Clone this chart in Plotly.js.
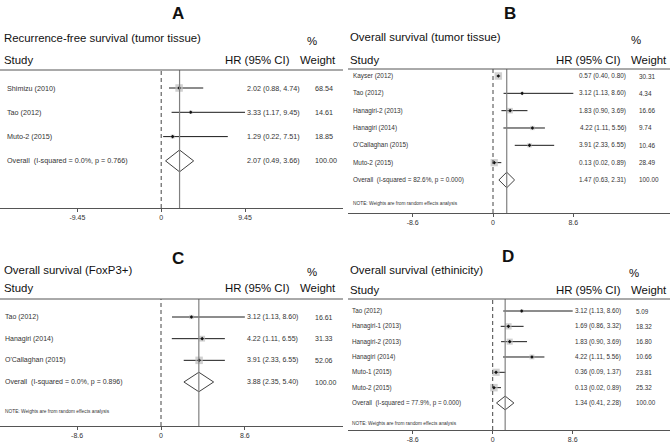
<!DOCTYPE html>
<html><head><meta charset="utf-8">
<script src="https://cdn.plot.ly/plotly-3.0.1.min.js"></script>
<style>html,body{margin:0;padding:0;background:#fff}</style>
</head><body><div id="chart" style="width:670px;height:442px"></div>
<script>
// ---------- Panel A : Recurrence-free survival (tumor tissue) ----------
const titleA = "Recurrence-free survival (tumor tissue)";
const studiesA = ["Shimizu (2010)", "Tao (2012)", "Muto-2 (2015)"];
const hrA = [2.02, 3.33, 1.29];
const loA = [0.88, 1.17, 0.22];
const hiA = [4.74, 9.45, 7.51];
const weightA = [68.54, 14.61, 18.85];
const overallA = [2.07, 0.49, 3.66];
const hetA = "I-squared = 0.0%, p = 0.766";
const tickValsA = [-9.45, 0, 9.45];
const tickTextA = ["-9.45", "0", "9.45"];

// ---------- Panel B : Overall survival (tumor tissue) ----------
const titleB = "Overall survival (tumor tissue)";
const studiesB = ["Kayser (2012)", "Tao (2012)", "Hanagiri-2 (2013)", "Hanagiri (2014)", "O'Callaghan (2015)", "Muto-2 (2015)"];
const hrB = [0.57, 3.12, 1.83, 4.22, 3.91, 0.13];
const loB = [0.40, 1.13, 0.90, 1.11, 2.33, 0.02];
const hiB = [0.80, 8.60, 3.69, 5.56, 6.55, 0.89];
const weightB = [30.31, 4.34, 16.66, 9.74, 10.46, 28.49];
const overallB = [1.47, 0.63, 2.31];
const hetB = "I-squared = 82.6%, p = 0.000";
const tickValsB = [-8.6, 0, 8.6];
const tickTextB = ["-8.6", "0", "8.6"];

// ---------- Panel C : Overall survival (FoxP3+) ----------
const titleC = "Overall survival (FoxP3+)";
const studiesC = ["Tao (2012)", "Hanagiri (2014)", "O'Callaghan (2015)"];
const hrC = [3.12, 4.22, 3.91];
const loC = [1.13, 1.11, 2.33];
const hiC = [8.60, 6.55, 6.55];
const weightC = [16.61, 31.33, 52.06];
const overallC = [3.88, 2.35, 5.40];
const hetC = "I-squared = 0.0%, p = 0.896";
const tickValsC = [-8.6, 0, 8.6];
const tickTextC = ["-8.6", "0", "8.6"];

// ---------- Panel D : Overall survival (ethinicity) ----------
const titleD = "Overall survival (ethinicity)";
const studiesD = ["Tao (2012)", "Hanagiri-1 (2013)", "Hanagiri-2 (2013)", "Hanagiri (2014)", "Muto-1 (2015)", "Muto-2 (2015)"];
const hrD = [3.12, 1.69, 1.83, 4.22, 0.36, 0.13];
const loD = [1.13, 0.86, 0.90, 1.11, 0.09, 0.02];
const hiD = [8.60, 3.32, 3.69, 5.56, 1.37, 0.89];
const weightD = [5.09, 18.32, 16.80, 10.66, 23.81, 25.32];
const overallD = [1.34, 0.41, 2.28];
const hetD = "I-squared = 77.9%, p = 0.000";
const tickValsD = [-8.6, 0, 8.6];
const tickTextD = ["-8.6", "0", "8.6"];

const noteText = "NOTE: Weights are from random effects analysis";

// ---------- layout geometry (pixels) ----------
const W = 670, H = 442;
const PX = v => v / W, PY = v => 1 - v / H;
const FONT = "Liberation Sans, Arial, sans-serif";

const panels = [
  {letter:'A', title:titleA, studies:studiesA, hr:hrA, lo:loA, hi:hiA, w:weightA, ov:overallA, het:hetA, tv:tickValsA, tt:tickTextA, note:false,
   left:0, right:343, zero:161.2, k:8.87, header:70, axisY:208, row0:88, step:24.3,
   letterX:178, letterY:13, titleX:2, titleY:38, pctX:312, pctY:41, headY:60, hrHeadRight:292, wHeadLeft:298,
   nameX:5, hrRight:302, wLeft:313, fs:7.2, xa:'x', ya:'y'},
  {letter:'B', title:titleB, studies:studiesB, hr:hrB, lo:loB, hi:hiB, w:weightB, ov:overallB, het:hetB, tv:tickValsB, tt:tickTextB, note:true,
   left:348, right:670, zero:493, k:9.34, header:69, axisY:213, row0:76, step:17.33,
   letterX:510, letterY:13, titleX:348, titleY:37, pctX:636, pctY:40, headY:60, hrHeadRight:623, wHeadLeft:629,
   nameX:351, hrRight:628, wLeft:637, fs:6.4, xa:'x2', ya:'y2'},
  {letter:'C', title:titleC, studies:studiesC, hr:hrC, lo:loC, hi:hiC, w:weightC, ov:overallC, het:hetC, tv:tickValsC, tt:tickTextC, note:true,
   left:0, right:343, zero:161, k:9.75, header:299, axisY:426, row0:317, step:21.67,
   letterX:178, letterY:258, titleX:2, titleY:270, pctX:312, pctY:272, headY:288, hrHeadRight:292, wHeadLeft:298,
   nameX:3, hrRight:300, wLeft:313, fs:7.0, xa:'x3', ya:'y3'},
  {letter:'D', title:titleD, studies:studiesD, hr:hrD, lo:loD, hi:hiD, w:weightD, ov:overallD, het:hetD, tv:tickValsD, tt:tickTextD, note:true,
   left:348, right:670, zero:492.7, k:9.3, header:299, axisY:430, row0:311, step:15.33,
   letterX:508, letterY:256, titleX:348, titleY:270, pctX:634, pctY:273, headY:290, hrHeadRight:623, wHeadLeft:629,
   nameX:350, hrRight:623, wLeft:634, fs:6.3, xa:'x4', ya:'y4'}
];

const traces = [], annotations = [], shapes = [];
const layout = {
  width: W, height: H, margin:{l:0, r:0, t:0, b:0},
  paper_bgcolor:'#fff', plot_bgcolor:'rgba(0,0,0,0)',
  showlegend:false, font:{family:FONT, color:'#222'},
  annotations, shapes
};

const f2 = v => v.toFixed(2);

panels.forEach(p => {
  const n = p.studies.length;
  const idx = p.studies.map((_, i) => i);
  const ovRow = n;
  const noteRow = n + (p.note ? 1.35 : 0);
  const xName = p.xa === 'x' ? 'xaxis' : 'xaxis' + p.xa.slice(1);
  const yName = p.ya === 'y' ? 'yaxis' : 'yaxis' + p.ya.slice(1);
  const maxW = Math.max(...p.w);

  layout[xName] = {
    domain:[PX(p.left), PX(p.right)],
    range:[(p.left - p.zero) / p.k, (p.right - p.zero) / p.k],
    anchor:p.ya, showline:true, linecolor:'#555', linewidth:1,
    ticks:'outside', ticklen:3, tickcolor:'#555', tickwidth:1,
    tickvals:p.tv, ticktext:p.tt, tickfont:{size:7, color:'#333', family:FONT},
    showgrid:false, zeroline:false, fixedrange:true
  };
  layout[yName] = {
    domain:[PY(p.axisY), PY(p.header)],
    range:[(p.axisY - p.row0) / p.step, (p.header - p.row0) / p.step],
    anchor:p.xa, visible:false, showgrid:false, zeroline:false, fixedrange:true
  };

  // reference lines
  shapes.push({type:'line', xref:p.xa, yref:p.ya + ' domain', x0:0, x1:0, y0:0, y1:1,
               line:{color:'#444', width:1, dash:'4px,3px'}});
  shapes.push({type:'line', xref:p.xa, yref:p.ya + ' domain', x0:p.ov[0], x1:p.ov[0], y0:0, y1:1,
               line:{color:'#808080', width:1.2}});
  // header rule
  shapes.push({type:'line', xref:'paper', yref:'paper', x0:PX(p.left), x1:PX(p.right), y0:PY(p.header), y1:PY(p.header),
               line:{color:'#555', width:1}});

  // CI lines with weight boxes
  traces.push({
    type:'scatter', mode:'markers', xaxis:p.xa, yaxis:p.ya,
    x:p.hr, y:idx,
    marker:{symbol:'square', color:'#bdbdbd', size:p.w.map(v => 7.5 * Math.sqrt(v / maxW)), line:{width:0}},
    error_x:{type:'data', symmetric:false,
             array:p.hi.map((h, i) => h - p.hr[i]), arrayminus:p.lo.map((l, i) => p.hr[i] - l),
             width:0, thickness:1, color:'#1a1a1a'},
    hoverinfo:'skip'
  });
  // point estimates
  traces.push({
    type:'scatter', mode:'markers', xaxis:p.xa, yaxis:p.ya,
    x:p.hr, y:idx,
    marker:{symbol:'diamond', color:'#111', size:2.8, line:{width:0}},
    hoverinfo:'skip'
  });
  // pooled diamond
  const dh = 0.45;
  traces.push({
    type:'scatter', mode:'lines', xaxis:p.xa, yaxis:p.ya,
    x:[p.ov[1], p.ov[0], p.ov[2], p.ov[0], p.ov[1]],
    y:[ovRow, ovRow - dh, ovRow, ovRow + dh, ovRow],
    line:{color:'#404040', width:1}, hoverinfo:'skip'
  });

  // headings
  const big = 11.4;
  annotations.push({text:'<b>' + p.letter + '</b>', xref:'paper', yref:'paper', x:PX(p.letterX), y:PY(p.letterY),
                    xanchor:'center', yanchor:'middle', showarrow:false, font:{size:17, color:'#111'}});
  annotations.push({text:p.title, xref:'paper', yref:'paper', x:PX(p.titleX), y:PY(p.titleY),
                    xanchor:'left', yanchor:'middle', showarrow:false, font:{size:big, color:'#111'}});
  annotations.push({text:'%', xref:'paper', yref:'paper', x:PX(p.pctX), y:PY(p.pctY),
                    xanchor:'center', yanchor:'middle', showarrow:false, font:{size:big, color:'#111'}});
  annotations.push({text:'Study', xref:'paper', yref:'paper', x:PX(p.titleX), y:PY(p.headY),
                    xanchor:'left', yanchor:'middle', showarrow:false, font:{size:big, color:'#111'}});
  annotations.push({text:'HR (95% CI)', xref:'paper', yref:'paper', x:PX(p.hrHeadRight), y:PY(p.headY),
                    xanchor:'right', yanchor:'middle', showarrow:false, font:{size:big, color:'#111'}});
  annotations.push({text:'Weight', xref:'paper', yref:'paper', x:PX(p.wHeadLeft), y:PY(p.headY),
                    xanchor:'left', yanchor:'middle', showarrow:false, font:{size:big, color:'#111'}});

  // rows
  const rowFont = {size:p.fs, color:'#333'};
  p.studies.forEach((s, i) => {
    annotations.push({text:s, xref:'paper', yref:p.ya, x:PX(p.nameX), y:i, xanchor:'left', yanchor:'middle', showarrow:false, font:rowFont});
    annotations.push({text:f2(p.hr[i]) + ' (' + f2(p.lo[i]) + ', ' + f2(p.hi[i]) + ')', xref:'paper', yref:p.ya, x:PX(p.hrRight), y:i,
                      xanchor:'right', yanchor:'middle', showarrow:false, font:rowFont});
    annotations.push({text:f2(p.w[i]), xref:'paper', yref:p.ya, x:PX(p.wLeft), y:i, xanchor:'left', yanchor:'middle', showarrow:false, font:rowFont});
  });
  annotations.push({text:'Overall  (' + p.het + ')', xref:'paper', yref:p.ya, x:PX(p.nameX), y:ovRow, xanchor:'left', yanchor:'middle', showarrow:false, font:rowFont});
  annotations.push({text:f2(p.ov[0]) + ' (' + f2(p.ov[1]) + ', ' + f2(p.ov[2]) + ')', xref:'paper', yref:p.ya, x:PX(p.hrRight), y:ovRow,
                    xanchor:'right', yanchor:'middle', showarrow:false, font:rowFont});
  annotations.push({text:'100.00', xref:'paper', yref:p.ya, x:PX(p.wLeft), y:ovRow, xanchor:'left', yanchor:'middle', showarrow:false, font:rowFont});
  if (p.note) {
    annotations.push({text:noteText, xref:'paper', yref:p.ya, x:PX(p.nameX), y:noteRow, xanchor:'left', yanchor:'middle', showarrow:false,
                      font:{size:4.8, color:'#333'}});
  }
});

Plotly.newPlot('chart', traces, layout, {displayModeBar:false, staticPlot:true});
</script>
</body></html>
